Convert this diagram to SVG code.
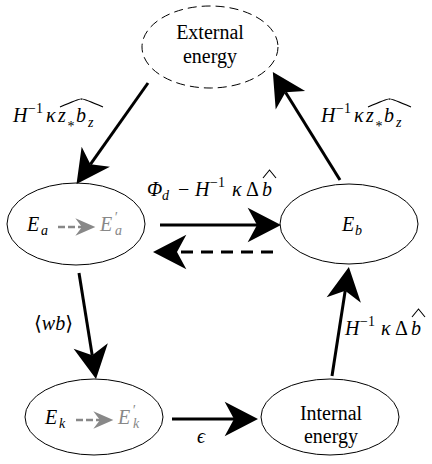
<svg xmlns="http://www.w3.org/2000/svg" width="432" height="464" viewBox="0 0 432 464">
<style>
.node{fill:#fff;stroke:#000;stroke-width:1}
.dash{stroke-dasharray:9 5}
.t{font-family:"Liberation Serif",Tinos,"Times New Roman","Noto Serif","DejaVu Serif",FreeSerif,serif;font-size:20px;fill:#000}
.m{font-family:"Liberation Serif",Tinos,"Times New Roman","Noto Serif","DejaVu Serif",FreeSerif,serif;font-style:italic;font-size:20px;fill:#000}
.s{font-size:14px}
.up{font-style:normal}
.g{fill:#888}
.conn{stroke:#000;stroke-width:3;fill:none}
.back{stroke-dasharray:12 8}
.ga{stroke:#888;stroke-width:2.5;fill:none;stroke-dasharray:7 3}
.hat{stroke:#000;stroke-width:1.1;fill:none}
</style>
<defs>
<marker id="ah" markerUnits="userSpaceOnUse" markerWidth="40" markerHeight="40" viewBox="-10 -15 30 30" refX="0" refY="0" orient="auto">
<path d="M18,0 L-7,-13 L0,0 L-7,13 Z" fill="#000"/>
</marker>
<marker id="gh" markerUnits="userSpaceOnUse" markerWidth="24" markerHeight="24" viewBox="-6 -8 18 16" refX="0" refY="0" orient="auto">
<path d="M10,0 L-5,-6.5 L0,0 L-5,6.5 Z" fill="#888"/>
</marker>
</defs>

<g id="external">
<ellipse class="node dash" cx="210" cy="47" rx="68" ry="41"/>
<text class="t" x="210" y="39" text-anchor="middle">External</text>
<text class="t" x="210" y="63" text-anchor="middle">energy</text>
</g>

<g id="Ea">
<ellipse class="node" cx="76" cy="224" rx="69" ry="41"/>
<text class="m" x="27" y="231">E</text>
<text class="m s" x="41" y="235">a</text>
<line class="ga" x1="58" y1="227" x2="82" y2="227" marker-end="url(#gh)"/>
<text class="m g" x="100" y="231">E</text>
<text class="m s g" x="114" y="222">′</text>
<text class="m s g" x="115" y="235">a</text>
</g>

<g id="Eb">
<ellipse class="node" cx="349" cy="224" rx="69" ry="40"/>
<text class="m" x="342" y="231">E</text>
<text class="m s" x="355" y="235">b</text>
</g>

<g id="Ek">
<ellipse class="node" cx="94" cy="417" rx="69" ry="38"/>
<text class="m" x="45" y="424">E</text>
<text class="m s" x="59" y="428">k</text>
<line class="ga" x1="76" y1="420" x2="100" y2="420" marker-end="url(#gh)"/>
<text class="m g" x="118" y="424">E</text>
<text class="m s g" x="132" y="415">′</text>
<text class="m s g" x="133" y="428">k</text>
</g>

<g id="internal">
<ellipse class="node" cx="330" cy="417" rx="69" ry="38"/>
<text class="t" x="331" y="420" text-anchor="middle">Internal</text>
<text class="t" x="331" y="443" text-anchor="middle">energy</text>
</g>

<g id="connectors">
<line class="conn" x1="148" y1="83" x2="90.4" y2="164.3" marker-end="url(#ah)"/>
<line class="conn" x1="340" y1="180" x2="285.5" y2="92.3" marker-end="url(#ah)"/>
<line class="conn" x1="160" y1="225" x2="257" y2="225" marker-end="url(#ah)"/>
<line class="conn back" x1="273" y1="252" x2="177" y2="252" marker-end="url(#ah)"/>
<line class="conn" x1="79" y1="273" x2="92.2" y2="355.2" marker-end="url(#ah)"/>
<line class="conn" x1="332" y1="376" x2="345.2" y2="290.8" marker-end="url(#ah)"/>
<line class="conn" x1="172" y1="419" x2="234" y2="419" marker-end="url(#ah)"/>
</g>

<g id="labels">
<g id="lbl-left">
<text class="m" x="13" y="122">H</text>
<text class="m s up" x="28" y="113">−1</text>
<text class="m" x="46" y="122">κ</text>
<text class="m" x="58" y="122">z</text>
<text class="m s up" x="67.5" y="131">*</text>
<text class="m" x="76" y="122">b</text>
<text class="m s" x="88" y="127">z</text>
<path class="hat" d="M60,107 Q81,98 81.5,99 Q82,98 103,107"/>
</g>
<g id="lbl-right" transform="translate(308,0)">
<text class="m" x="13" y="122">H</text>
<text class="m s up" x="28" y="113">−1</text>
<text class="m" x="46" y="122">κ</text>
<text class="m" x="58" y="122">z</text>
<text class="m s up" x="67.5" y="131">*</text>
<text class="m" x="76" y="122">b</text>
<text class="m s" x="88" y="127">z</text>
<path class="hat" d="M60,107 Q81,98 81.5,99 Q82,98 103,107"/>
</g>
<g id="lbl-mid">
<text class="m" x="147" y="196">Φ</text>
<text class="m s" x="162" y="200">d</text>
<text class="m up" x="178" y="196">−</text>
<text class="m" x="195" y="196">H</text>
<text class="m s up" x="210" y="187">−1</text>
<text class="m" x="232" y="196">κ</text>
<text class="m up" x="246" y="196">Δ</text>
<text class="m" x="262" y="196">b</text>
<path class="hat" d="M263,178 L269.5,170 L276,178"/>
</g>
<g id="lbl-wb">
<text class="m" x="34" y="330"><tspan class="up">⟨</tspan>wb<tspan class="up">⟩</tspan></text>
</g>
<g id="lbl-rb">
<text class="m" x="345" y="335">H</text>
<text class="m s up" x="360" y="326">−1</text>
<text class="m" x="381" y="335">κ</text>
<text class="m up" x="395" y="335">Δ</text>
<text class="m" x="411" y="335">b</text>
<path class="hat" d="M412,317 L418.5,309 L425,317"/>
</g>
<g id="lbl-eps">
<text class="m" x="197" y="443">ϵ</text>
</g>
</g>
</svg>
